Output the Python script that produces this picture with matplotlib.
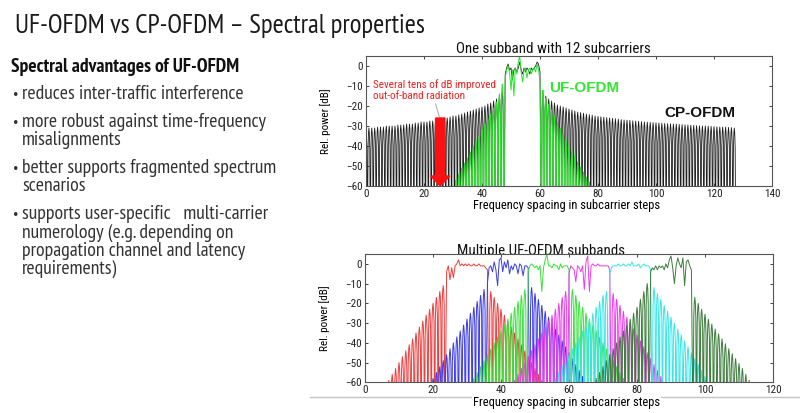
import numpy as np
import matplotlib
matplotlib.use('Agg')
import matplotlib.pyplot as plt
from matplotlib.lines import Line2D

# ---- top chart: one subband with 12 subcarriers (peak level of each sidelobe, dB)
cp_left_start = 0
cp_left = [-31, -31, -31, -31, -30.5, -30.5, -30.5, -30, -30, -30, -30, -29.5,
           -29.5, -29.5, -29, -29, -29, -28.5, -28.5, -28, -28, -28, -27.5, -27.5,
           -27, -27, -26.5, -26, -26, -25.5, -25, -25, -24.5, -24, -23.5, -23,
           -22.5, -22, -21.5, -21, -20.5, -20, -19, -18.5, -17.5, -16.5, -15, -13]
cp_pass_start = 48
cp_pass = [-4, -1, 1, -2, -1, -7, -2, -1, -3, -1, 2, -2, -4, -1, -3, -1, -2, -4,
           -1, -2, -1, 0, 2, 1, -3]
cp_right_start = 61
cp_right = [-13, -15, -16.5, -17.5, -18.5, -19.5, -20, -20.5, -21, -21.5, -22,
            -22.5, -23, -23.3, -23.6, -24, -24.3, -24.6, -25, -25.2, -25.4, -25.6,
            -25.8, -26, -26.2, -26.4, -26.6, -26.8, -27, -27.1, -27.2, -27.4, -27.5,
            -27.6, -27.8, -28, -28.1, -28.2, -28.3, -28.4, -28.5, -28.6, -28.7, -28.8,
            -28.9, -29, -29.1, -29.2, -29.3, -29.4, -29.5, -29.6, -29.7, -29.8, -29.9,
            -30, -30, -30.1, -30.2, -30.3, -30.4, -30.5, -30.5, -30.6, -30.7, -30.8, -31]

uf_left_start = 31
uf_left = [-57, -54, -51, -48.5, -46, -43, -40, -37.5, -35, -32, -29, -26.5, -24,
           -21, -18, -14, -9]
uf_pass_start = 48
uf_pass = [-6, -2, 0, -3, -12, -2, -15, -1, -4, 2, 5, -3, -8, -2, -1, -6, -2, -1,
           -4, -2, -1, -3, 1, -2, -8]
uf_right_start = 61
uf_right = [-12, -16, -19, -22, -25, -28, -31, -34, -37, -40, -42.5, -45, -48,
            -50.5, -53, -55.5, -58, -60]

# ---- bottom chart: six UF-OFDM subbands
sb_names = ['red', 'blue', 'green', 'magenta', 'cyan', 'darkgreen']
sb_pass_start = [24, 36, 48, 60, 72, 84]
sb_left = [
    [-59, -56, -53, -50, -47, -44, -41, -38, -35, -32, -29, -26, -23, -20, -17, -14, -11],
    [-61, -58, -55, -52, -49, -46, -43, -40, -37, -34, -31, -28, -25, -22, -19, -16, -13],
    [-61, -58, -55, -52, -49, -46, -43, -40, -37, -34, -31, -28, -25, -22, -19, -16, -13],
    [-62, -59, -56, -53, -50, -47, -44, -41, -38, -35, -32, -29, -26, -23, -20, -17, -14],
    [-61, -58, -55, -52, -49, -46, -43, -40, -37, -34, -31, -28, -25, -22, -19, -16, -14],
    [-61, -58, -55, -52, -49, -46, -43, -40, -37, -34, -31, -28, -25, -22, -18, -14, -10],
]
sb_pass = [
    [-4, -1, -8, -2, -7, -1, 0, 2, -1, 0, -1, 0, -1, 0, -1, -1, 0, -1, -1, 0, -1, -1, -1, -2, -3],
    [-10, -2, -1, -4, 1, -3, -11, 2, 3, -4, 1, -2, 2, -5, -1, -3, 0, -1, -5, 0, -1, -6, -1, -1, -2],
    [-4, -1, 0, -1, -2, -1, -3, -1, -14, -2, 2, 5, -1, -1, -2, 0, -1, -1, -3, 0, -2, -1, -1, -1, -3],
    [-5, -1, -2, -3, -9, -1, -2, -4, -1, -13, 1, 4, -14, -1, 0, -1, -1, 0, -1, -1, -1, -1, -1, -1, -3],
    [-5, -2, -1, -1, -1, 0, -1, -1, 0, -1, -1, 0, -1, 1, -1, -1, -1, 0, -2, -1, 0, -1, -1, -1, -3],
    [-4, -2, -3, -1, -3, -1, -2, -1, -3, 0, -2, 2, 4, -2, -10, -1, 3, 0, -2, 3, -11, 1, 2, -1, -3],
]
sb_right = [
    [-14, -17, -20, -23, -26, -29, -32, -35, -38, -41, -44, -47, -50, -53, -56, -59, -62],
    [-12, -15, -18, -21, -24, -27, -30, -33, -36, -39, -42, -45, -48, -51, -54, -57, -60],
    [-13, -16, -19, -22, -25, -28, -31, -34, -37, -40, -43, -46, -49, -52, -55, -58, -61],
    [-15, -18, -21, -24, -27, -30, -33, -36, -39, -42, -45, -48, -51, -54, -57, -60, -63],
    [-12, -15, -18, -21, -24, -27, -30, -33, -36, -39, -42, -45, -48, -51, -54, -57, -60],
    [-17, -20, -23, -25.5, -28, -30.5, -33, -35.5, -38, -40.5, -43, -45.5, -48, -50.5, -53, -56, -59],
]

bullets = [
    ['reduces inter-traffic interference'],
    ['more robust against time-frequency', 'misalignments'],
    ['better supports fragmented spectrum', 'scenarios'],
    ['supports user-specific   multi-carrier', 'numerology (e.g. depending on',
     'propagation channel and latency', 'requirements)'],
]

# shape of one sidelobe around its peak (style only)
LOBE_DX = [-0.5, -0.3, -0.15, 0.0, 0.15, 0.3]
LOBE_DB = [-90, -10, -2.5, 0, -2.5, -10]


def lobes(start, peaks):
    xs, ys = [], []
    for i, v in enumerate(peaks):
        for dx, db in zip(LOBE_DX, LOBE_DB):
            xs.append(start + i + dx)
            ys.append(v + db if db > -50 else db)
    xs.append(start + len(peaks) - 0.5)
    ys.append(-90)
    return xs, ys


def spectrum(ls, left, ps, passband, rs, right):
    x1, y1 = lobes(ls, left)
    x2 = list(ps + 0.5 * np.arange(len(passband)))
    x3, y3 = lobes(rs, right)
    return np.array(x1 + x2 + x3), np.array(y1 + list(passband) + y3)


def style_axes(ax, xmax):
    ax.set_xlim(0, xmax)
    ax.set_ylim(-60, 5)
    ax.set_xticks(range(0, xmax + 1, 20))
    ax.set_yticks(range(-60, 1, 10))
    ax.tick_params(direction='in', top=True, right=True, length=2.5, width=0.6,
                   labelsize=8, pad=2, colors='#222222')
    for s in ax.spines.values():
        s.set_color('#555555')
        s.set_linewidth(0.8)


PLOT_FONT = ['Roboto Condensed', 'Archivo Narrow', 'Liberation Sans', 'DejaVu Sans']
TEXT_FONT = ['PT Sans Narrow', 'Fira Sans Condensed', 'Open Sans', 'DejaVu Sans']
LABEL_FONT = ['Liberation Sans', 'DejaVu Sans']
plt.rcParams['font.family'] = PLOT_FONT

fig = plt.figure(figsize=(8, 4.13), dpi=100)
fig.patch.set_facecolor('white')

# ---- slide text
fig.text(15 / 800, 1 - 33 / 413, 'UF-OFDM vs CP-OFDM \u2013 Spectral properties',
         family=TEXT_FONT, fontsize=19.3, color='#1a1a1a', va='baseline')
fig.text(11 / 800, 1 - 72 / 413, 'Spectral advantages of UF-OFDM',
         family=TEXT_FONT, fontsize=14, weight='bold', color='#111111', va='baseline')
y = 99
for item in bullets:
    fig.text(13 / 800, 1 - y / 413, '\u2022', family=TEXT_FONT, fontsize=11,
             color='#333333', va='baseline')
    for line in item:
        fig.text(22 / 800, 1 - y / 413, line, family=TEXT_FONT, fontsize=14.2,
                 color='#333333', va='baseline')
        y += 18.3
    y += 9.5

# thin grey rule of the slide picture
fig.add_artist(Line2D([310 / 800, 1], [1 - 397 / 413] * 2, color='#c4c4c4', lw=1,
                      zorder=-2))

# ---- top chart
ax1 = fig.add_axes([366 / 800, 1 - 186 / 413, 406 / 800, 130 / 413])
cx, cy = spectrum(cp_left_start, cp_left, cp_pass_start, cp_pass, cp_right_start, cp_right)
ux, uy = spectrum(uf_left_start, uf_left, uf_pass_start, uf_pass, uf_right_start, uf_right)
ax1.plot(cx, cy, color='#1e1e1e', lw=0.6)
ax1.plot(ux, uy, color='#2ee02e', lw=0.7)
style_axes(ax1, 140)
ax1.set_ylabel('Rel. power [dB]', fontsize=8)
ax1.yaxis.set_label_coords(-0.086, 0.5)
ax1.set_xlabel('Frequency spacing in subcarrier steps', fontsize=9)
ax1.xaxis.set_label_coords(0.494, -0.1)
ax1.text(64.5, 6.5, 'One subband with 12 subcarriers', fontsize=10.8, ha='center',
         va='baseline', color='#111111')
ax1.text(2.5, -12, 'Several tens of dB improved\nout-of-band radiation', fontsize=8,
         color='#ee2222', va='center', linespacing=1.2)
ax1.plot([24, 25.3], [-19, -25.5], color='#999999', lw=0.6)
ax1.arrow(25.6, -26, 0, -34, width=3.2, head_width=6.6, head_length=5,
          length_includes_head=True, color='#ff1010', zorder=5)
ax1.text(63, -11, 'UF-OFDM', fontsize=11, weight='bold', color='#33e633', va='center',
         family=LABEL_FONT)
ax1.text(103, -23.5, 'CP-OFDM', fontsize=11, weight='bold', color='#111111',
         va='center', family=LABEL_FONT)

# ---- bottom chart
fig.text(541 / 800, 1 - 254.5 / 413, 'Multiple UF-OFDM subbands', fontsize=10.8,
         ha='center', va='baseline', color='#111111', zorder=-1)
ax2 = fig.add_axes([365 / 800, 1 - 382.3 / 413, 408 / 800, 128.3 / 413])
colors = {'red': '#f03c3c', 'blue': '#3a3ae6', 'green': '#3ae03a',
          'magenta': '#ee38ee', 'cyan': '#38e6e6', 'darkgreen': '#3c7c3c'}
for name, ps, left, pas, right in zip(sb_names, sb_pass_start, sb_left, sb_pass, sb_right):
    x, yv = spectrum(ps - len(left), left, ps, pas, ps + 13, right)
    ax2.plot(x, yv, color=colors[name], lw=0.7)
style_axes(ax2, 120)
ax2.set_ylabel('Rel. power [dB]', fontsize=8)
ax2.yaxis.set_label_coords(-0.086, 0.5)
ax2.set_xlabel('Frequency spacing in subcarrier steps', fontsize=9,
               bbox=dict(facecolor='white', edgecolor='none', pad=1))
ax2.xaxis.set_label_coords(0.494, -0.11)

fig.savefig('out.png', dpi=100)
